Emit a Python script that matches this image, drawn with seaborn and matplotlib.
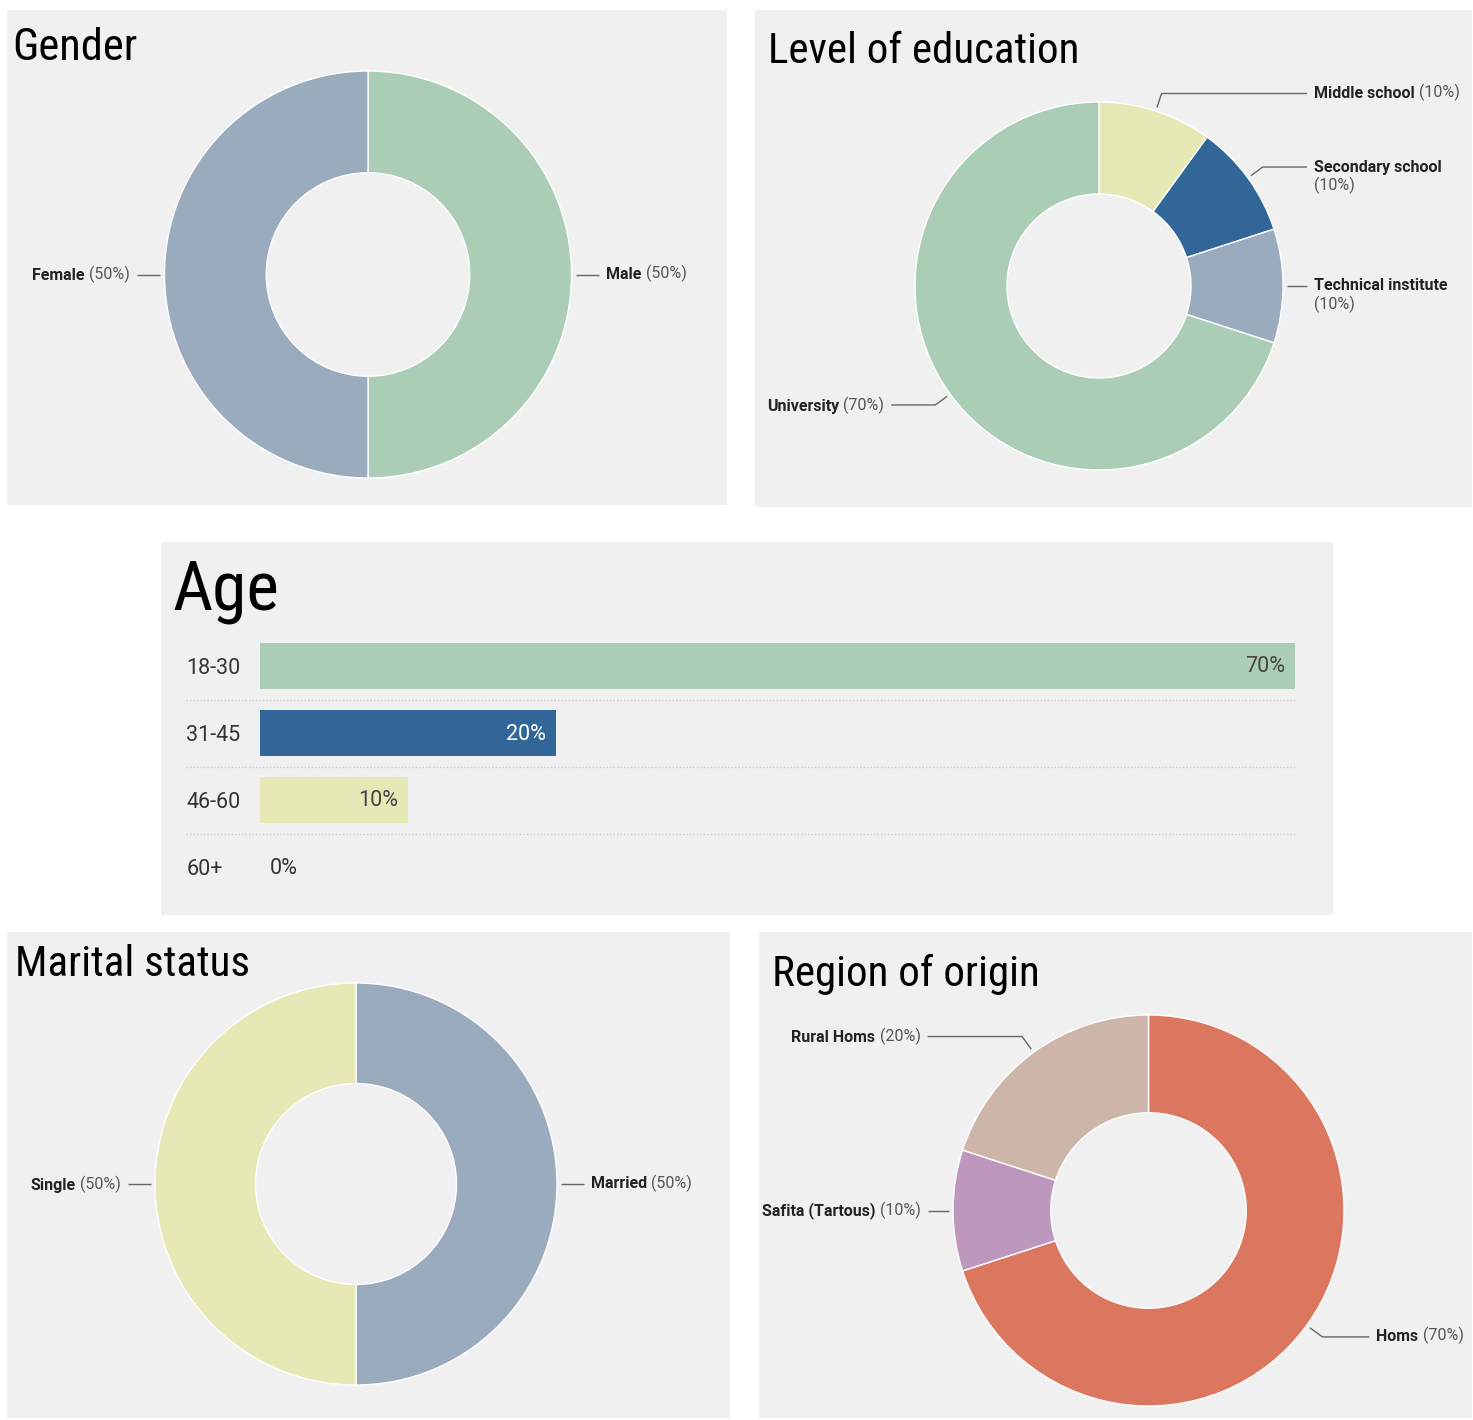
import numpy as np
import seaborn as sns
import matplotlib.pyplot as plt

# data
gender_names = ['Male', 'Female']
gender_pct = [50, 50]
gender_colors = ['#abcdb5', '#99abbd']

edu_names = ['Middle school', 'Secondary school', 'Technical institute', 'University']
edu_pct = [10, 10, 10, 70]
edu_colors = ['#e6e8b6', '#326699', '#99abbd', '#abcdb5']
edu_wrap = [False, True, True, False]

age_groups = ['18-30', '31-45', '46-60', '60+']
age_pct = [70, 20, 10, 0]
age_colors = ['#abcdb5', '#326699', '#e6e8b6', '#e6e8b6']
age_text_colors = ['#444444', 'white', '#444444', '#333333']

marital_names = ['Married', 'Single']
marital_pct = [50, 50]
marital_colors = ['#99abbd', '#e6e8b6']

region_names = ['Homs', 'Safita (Tartous)', 'Rural Homs']
region_pct = [70, 10, 20]
region_colors = ['#db775f', '#be97be', '#ceb5a9']

W, H = 1473, 1420
BG = '#f0f0f0'
LABEL_FONT = ['Roboto', 'DejaVu Sans']
LABEL_SIZE = 11.5

sns.set_style('white')
plt.rcParams['font.family'] = ['Roboto Condensed', 'Roboto', 'DejaVu Sans']

fig = plt.figure(figsize=(W / 100, H / 100), dpi=100)
fig.patch.set_facecolor('white')


def px_rect(x0, y0, x1, y1):
    return [x0 / W, 1 - y1 / H, (x1 - x0) / W, (y1 - y0) / H]


def panel(x0, y0, x1, y1):
    ax = fig.add_axes(px_rect(x0, y0, x1, y1))
    ax.set_facecolor(BG)
    ax.set_xticks([])
    ax.set_yticks([])
    for s in ax.spines.values():
        s.set_visible(False)
    return ax


def title(x, baseline, text, size):
    fig.text(x / W, 1 - baseline / H, text, fontsize=size, color='black',
             ha='left', va='baseline')


def label(ax, x, y, name, pct, right, wrap=False):
    if right:
        t1 = ax.text(x, y, name, fontsize=LABEL_SIZE, fontweight='bold', color='#222222',
                     family=LABEL_FONT, ha='left', va='center', clip_on=False)
        if wrap:
            ax.annotate(pct, xy=(0, 0), xycoords=t1, xytext=(0, -1.5),
                        textcoords='offset points', fontsize=LABEL_SIZE, color='#555555',
                        family=LABEL_FONT, ha='left', va='top')
        else:
            ax.annotate(pct, xy=(1, 0), xycoords=t1, xytext=(3, 0),
                        textcoords='offset points', fontsize=LABEL_SIZE, color='#555555',
                        family=LABEL_FONT, ha='left', va='bottom')
    else:
        t2 = ax.text(x, y, pct, fontsize=LABEL_SIZE, color='#555555', family=LABEL_FONT,
                     ha='right', va='center', clip_on=False)
        ax.annotate(name, xy=(0, 0), xycoords=t2, xytext=(-3, 0),
                    textcoords='offset points', fontsize=LABEL_SIZE, fontweight='bold',
                    color='#222222', family=LABEL_FONT, ha='right', va='bottom')


def donut(cx, cy, r, names, values, colors, wraps=None, line_end=1.135):
    ax = fig.add_axes(px_rect(cx - r, cy - r, cx + r, cy + r))
    ax.pie(values, colors=colors, startangle=90, counterclock=False, radius=1,
           wedgeprops=dict(width=0.5, edgecolor='white', linewidth=1))
    ax.set_xlim(-1, 1)
    ax.set_ylim(-1, 1)
    ax.axis('off')
    total = float(sum(values))
    cum = np.cumsum(values)
    gap = 7.0 / r
    for i, (name, v) in enumerate(zip(names, values)):
        ang = np.deg2rad(360 * (cum[i] - v / 2) / total)
        s, c = np.sin(ang), np.cos(ang)
        side = 1 if s > 0 else -1
        p1 = (1.02 * s, 1.02 * c)
        p2 = (1.10 * s, 1.10 * c)
        if abs(c) < 1e-6:
            p2 = (1.02 * s, 0.0)
        p3 = (side * line_end, p2[1])
        ax.plot([p1[0], p2[0], p3[0]], [p1[1], p2[1], p3[1]], color='#666666',
                lw=1, clip_on=False, solid_capstyle='butt')
        wrap = wraps[i] if wraps is not None else False
        label(ax, p3[0] + side * gap, p3[1], name, f'({v}%)', side > 0, wrap)
    return ax


# Gender
panel(7, 10, 727, 505)
title(12, 60, 'Gender', 32)
donut(368, 274.5, 203.5, gender_names, gender_pct, gender_colors)

# Level of education
panel(755, 10, 1472, 507)
title(768, 63, 'Level of education', 31)
donut(1099, 286, 184, edu_names, edu_pct, edu_colors, wraps=edu_wrap, line_end=1.13)

# Marital status
panel(7, 932, 730, 1418)
title(15, 976, 'Marital status', 31)
donut(356, 1184, 201, marital_names, marital_pct, marital_colors)

# Region of origin
panel(759, 932, 1472, 1418)
title(772, 986, 'Region of origin', 31)
donut(1148.5, 1210.5, 195.5, region_names, region_pct, region_colors, line_end=1.13)

# Age
panel(161, 542, 1333, 915)
title(172, 609, 'Age', 50)
ax = fig.add_axes(px_rect(260, 632.5, 1295, 900.5))
ax.set_facecolor('none')
sns.barplot(x=age_pct, y=age_groups, hue=age_groups, palette=age_colors,
            legend=False, orient='h', width=0.7, saturation=1, linewidth=0, ax=ax)
ax.set_xlim(0, max(age_pct))
ax.set_ylim(len(age_groups) - 0.5, -0.5)
ax.set_xticks([])
ax.set_xlabel('')
ax.set_ylabel('')
sns.despine(ax=ax, left=True, bottom=True)
ax.tick_params(axis='y', length=0, pad=53, labelsize=15.5, labelcolor='#333333')
for t in ax.get_yticklabels():
    t.set_horizontalalignment('left')
    t.set_family(LABEL_FONT)
sep_x0 = -74.0 / 1035 * max(age_pct)
for i in range(len(age_groups) - 1):
    ax.plot([sep_x0, max(age_pct)], [i + 0.5, i + 0.5], color='#cccccc', lw=1,
            ls=(0, (1, 1.5)), clip_on=False)
for i, (v, tc) in enumerate(zip(age_pct, age_text_colors)):
    if v > 5:
        ax.annotate(f'{v}%', xy=(v, i), xytext=(-10, -1), textcoords='offset pixels',
                    ha='right', va='center', fontsize=15.5, color=tc, family=LABEL_FONT)
    else:
        ax.annotate(f'{v}%', xy=(v, i), xytext=(10, -1), textcoords='offset pixels',
                    ha='left', va='center', fontsize=15.5, color=tc, family=LABEL_FONT)

fig.savefig('out.png', dpi=100, facecolor='white')
